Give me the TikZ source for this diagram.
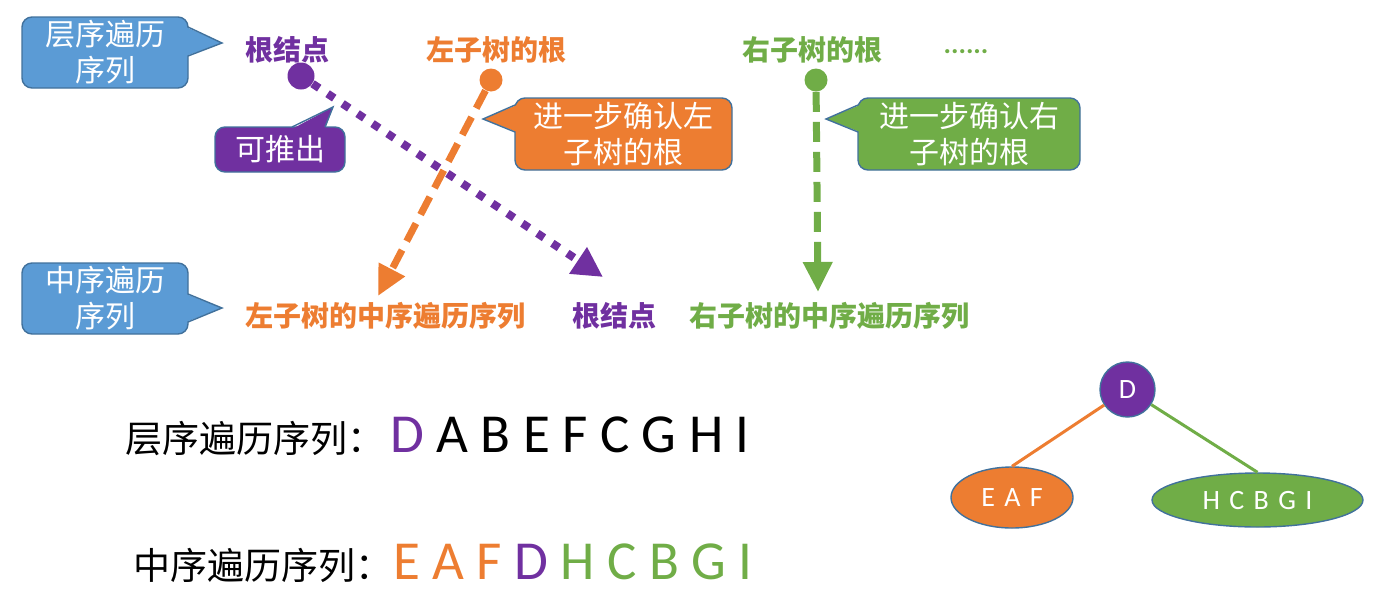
\documentclass[tikz,border=0pt]{standalone}
\usepackage{fontspec}
\setmainfont{Carlito}
\newfontfamily\cjk{Noto Sans CJK SC}
\usetikzlibrary{arrows.meta,shapes.geometric}
\definecolor{cblue}{HTML}{5B9BD5}
\definecolor{cborder}{HTML}{41719C}
\definecolor{cpurple}{HTML}{7030A0}
\definecolor{corange}{HTML}{ED7D31}
\definecolor{cgreen}{HTML}{70AD47}
\begin{document}
\begin{tikzpicture}[x=0.5pt,y=-0.5pt,
  callbox/.style={rectangle, rounded corners=5pt, draw=cborder, line width=0.7pt,
    text=white, align=center, inner sep=0pt, font=\cjk\fontsize{15}{18}\selectfont},
  tailedge/.style={draw=cborder, line width=0.7pt, line join=miter},
  lbl/.style={font=\cjk\bfseries\fontsize{14}{16}\selectfont, inner sep=0pt},
  bigtxt/.style={font=\cjk\fontsize{18.5}{20}\selectfont, inner sep=0pt, anchor=base west},
  letters/.style={font=\fontsize{27.5}{30}\selectfont, inner sep=0pt, anchor=base west},
  dotn/.style={circle, fill=#1, inner sep=0pt},
  dotline/.style={draw=cpurple, line width=4pt, dash pattern=on 4pt off 5pt,
    -{Triangle[length=15pt,width=15pt]}},
  dashline/.style={draw=#1, line width=3.5pt, dash pattern=on 10pt off 5pt,
    -{Triangle[length=15pt,width=14pt]}},
  treenode/.style={draw=cborder, line width=0.7pt, text=white, inner sep=0pt,
    font=\fontsize{14}{16}\selectfont},
  treeline/.style={line width=1.5pt}
]
\useasboundingbox (0,0) rectangle (1390,611);

% ---- callouts ----
\node[callbox, fill=cblue, minimum width=83pt, minimum height=35.5pt] (c1) at (105,52.5) {层序遍历\\序列};
\coordinate (t1) at (222,43);
\fill[cblue] (186,27) -- (t1) -- (186,56) -- cycle;
\draw[tailedge] (188,27) -- (t1) -- (188,56);

\node[callbox, fill=cblue, minimum width=83pt, minimum height=35.5pt] (c2) at (105,298.5) {中序遍历\\序列};
\coordinate (t2) at (222,308);
\fill[cblue] (186,294) -- (t2) -- (186,322) -- cycle;
\draw[tailedge] (188,294) -- (t2) -- (188,322);

\node[callbox, fill=cpurple, minimum width=65pt, minimum height=22.5pt] (c3) at (280,149.5) {可推出};
\coordinate (t3) at (333,107);
\fill[cpurple] (292,129) -- (t3) -- (325,129) -- cycle;
\draw[tailedge] (292,127) -- (t3) -- (325,127);

\node[callbox, fill=corange, minimum width=108.5pt, minimum height=36pt] (c4) at (623.5,134) {进一步确认左\\子树的根};
\coordinate (t4) at (483,119);
\fill[corange] (517,105) -- (t4) -- (517,132) -- cycle;
\draw[tailedge] (515,105) -- (t4) -- (515,132);

\node[callbox, fill=cgreen, minimum width=111pt, minimum height=36pt] (c5) at (969,134) {进一步确认右\\子树的根};
\coordinate (t5) at (826,119);
\fill[cgreen] (860,105) -- (t5) -- (860,132) -- cycle;
\draw[tailedge] (858,105) -- (t5) -- (858,132);

% ---- top labels ----
\node[lbl, text=cpurple] (l1) at (287,50) {根结点};
\node[lbl, text=corange] (l2) at (496,50) {左子树的根};
\node[lbl, text=cgreen] (l3) at (812,50) {右子树的根};
\node[font=\bfseries\fontsize{14}{16}\selectfont, text=cgreen, inner sep=0pt] (l4) at (966,52) {......};

% ---- middle labels ----
\node[lbl, text=corange] (m1) at (385,316) {左子树的中序遍历序列};
\node[lbl, text=cpurple] (m2) at (614,316) {根结点};
\node[lbl, text=cgreen] (m3) at (829,316) {右子树的中序遍历序列};

% ---- dots and arrows ----
\node[dotn=cpurple, minimum size=13.5pt] (d1) at (301,76) {};
\node[dotn=corange, minimum size=11.5pt] (d2) at (491,80) {};
\node[dotn=cgreen, minimum size=11.5pt] (d3) at (816,80) {};
\coordinate (a1) at (603,277);
\coordinate (a2) at (378,296);
\coordinate (a3) at (818,292);
\draw[dashline=corange] (d2) -- (a2);
\draw[dotline] (d1) -- (a1);
\draw[dashline=cgreen] (d3) -- (a3);

% ---- sequences ----
\node[bigtxt] (s1) at (125,452) {层序遍历序列：};
\node[letters] (s1l) at (390,452) {\textcolor{cpurple}{D} A B E F C G H I};
\node[bigtxt] (s2) at (133,579) {中序遍历序列：};
\node[letters] (s2l) at (393,579) {\textcolor{corange}{E A F} \textcolor{cpurple}{D} \textcolor{cgreen}{H C B G I}};

% ---- tree ----
\node[treenode, circle, fill=cpurple, minimum size=27.5pt] (D) at (1127.5,389.5) {D};
\node[treenode, ellipse, fill=corange, minimum width=61pt, minimum height=30.5pt] (EAF) at (1012,497.5) {E\,\,A\,\,F};
\node[treenode, ellipse, fill=cgreen, minimum width=105.5pt, minimum height=27pt] (HCBGI) at (1257.5,500) {H\,\,C\,\,B\,\,G\,\,I};
\draw[treeline, corange] (D) -- (EAF.north);
\draw[treeline, cgreen] (D) -- (HCBGI.north);
\end{tikzpicture}
\end{document}
